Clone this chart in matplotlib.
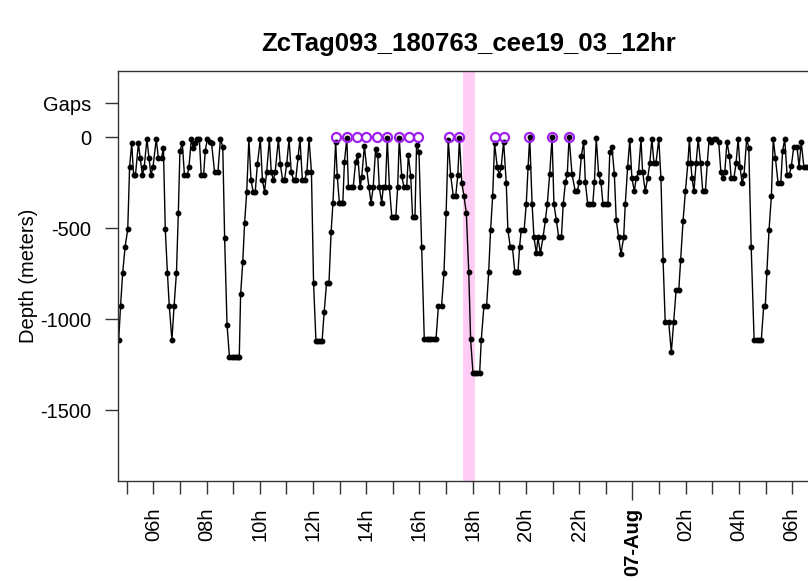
import matplotlib
matplotlib.use("Agg")
import matplotlib.pyplot as plt

plt.rcParams['font.family'] = ['Liberation Sans', 'DejaVu Sans']

title = "ZcTag093_180763_cee19_03_12hr"

# time in hours after 06-Aug 00:00, depth in metres
hours = [
    4.70, 4.77, 4.85, 4.94, 5.04, 5.11, 5.19, 5.26, 5.33, 5.44, 5.51, 5.59, 5.66, 5.76, 5.84,
    5.91, 5.99, 6.11, 6.19, 6.31, 6.38, 6.45, 6.53, 6.60, 6.70, 6.78, 6.87, 6.94, 7.00, 7.09,
    7.17, 7.28, 7.34, 7.43, 7.50, 7.58, 7.65, 7.73, 7.80, 7.89, 7.95, 8.03, 8.12, 8.19, 8.30,
    8.43, 8.52, 8.61, 8.68, 8.77, 8.86, 8.94, 9.02, 9.10, 9.17, 9.23, 9.28, 9.36, 9.43, 9.51,
    9.59, 9.67, 9.75, 9.83, 9.91, 10.02, 10.10, 10.18, 10.26, 10.36, 10.43, 10.51, 10.58, 10.70,
    10.77, 10.86, 10.93, 11.01, 11.10, 11.18, 11.27, 11.35, 11.44, 11.51, 11.60, 11.69, 11.77,
    11.85, 11.94, 12.02, 12.11, 12.19, 12.26, 12.34, 12.42, 12.51, 12.60, 12.68, 12.75, 12.85,
    12.91, 12.99, 13.06, 13.12, 13.18, 13.27, 13.33, 13.42, 13.51, 13.60, 13.68, 13.77, 13.83,
    13.93, 14.02, 14.10, 14.18, 14.26, 14.35, 14.43, 14.49, 14.58, 14.64, 14.72, 14.79, 14.87,
    14.96, 15.03, 15.11, 15.18, 15.24, 15.33, 15.42, 15.52, 15.58, 15.67, 15.74, 15.83, 15.89,
    15.98, 16.08, 16.18, 16.27, 16.36, 16.45, 16.53, 16.62, 16.71, 16.83, 16.92, 17.00, 17.08,
    17.17, 17.27, 17.36, 17.44, 17.50, 17.59, 17.67, 17.76, 17.85, 17.92, 18.01, 18.09, 18.17,
    18.26, 18.32, 18.42, 18.52, 18.60, 18.67, 18.75, 18.82, 18.92, 19.00, 19.07, 19.16, 19.26,
    19.32, 19.41, 19.49, 19.58, 19.64, 19.70, 19.76, 19.82, 19.93, 20.01, 20.08, 20.14, 20.23,
    20.30, 20.39, 20.45, 20.54, 20.64, 20.73, 20.80, 20.89, 20.98, 21.05, 21.14, 21.23, 21.33,
    21.40, 21.48, 21.55, 21.62, 21.73, 21.85, 21.93, 22.00, 22.08, 22.17, 22.23, 22.32, 22.41,
    22.51, 22.57, 22.64, 22.73, 22.82, 22.89, 22.99, 23.08, 23.15, 23.23, 23.32, 23.39, 23.48,
    23.57, 23.67, 23.73, 23.82, 23.90, 23.98, 24.07, 24.14, 24.23, 24.32, 24.38, 24.48, 24.57,
    24.65, 24.73, 24.81, 24.88, 24.99, 25.07, 25.15, 25.23, 25.36, 25.46, 25.55, 25.64, 25.74,
    25.81, 25.90, 25.99, 26.08, 26.14, 26.19, 26.24, 26.31, 26.39, 26.47, 26.56, 26.64, 26.74,
    26.81, 26.88, 26.96, 27.05, 27.15, 27.24, 27.32, 27.39, 27.47, 27.55, 27.64, 27.71, 27.81,
    27.89, 27.97, 28.04, 28.12, 28.19, 28.29, 28.37, 28.46, 28.57, 28.66, 28.75, 28.84, 28.93,
    28.99, 29.05, 29.13, 29.22, 29.29, 29.37, 29.47, 29.57, 29.64, 29.72, 29.81, 29.89, 29.97,
    30.06, 30.18, 30.26, 30.34, 30.44, 30.52, 30.61,
]
depth = [
    -1115, -929, -745, -603, -507, -163, -35, -209, -209, -35, -114, -209, -163, -11, -114,
    -209, -163, -11, -114, -114, -59, -507, -745, -929, -1115, -929, -745, -419, -77, -35,
    -209, -209, -163, -11, -59, -35, -11, -11, -209, -209, -77, -11, -26, -35, -190,
    -190, -11, -53, -557, -1033, -1207, -1207, -1207, -1207, -1207, -1207, -864, -689, -474, -300,
    -11, -236, -300, -300, -150, -11, -236, -300, -190, -11, -190, -236, -190, -11,
    -150, -236, -236, -150, -11, -190, -236, -236, -108, -11, -236, -236, -190,
    -11, -190, -800, -1121, -1121, -1121, -1121, -960, -800, -800, -520, -361, -26,
    -214, -361, -361, -361, -136, -7, -276, -276, -276, -136, -99, -276, -218,
    -49, -178, -276, -361, -276, -68, -99, -276, -361, -276, -276, -7, -276,
    -438, -438, -438, -276, -7, -214, -276, -276, -99, -214, -438, -438, -44,
    -81, -603, -1112, -1112, -1112, -1112, -1112, -1112, -929, -929, -745, -416, -16,
    -209, -324, -324, -209, -7, -254, -324, -419, -740, -1112, -1298, -1298, -1298,
    -1298, -1115, -929, -929, -740, -511, -322, -35, -163, -209, -163, -26, -255,
    -511, -603, -603, -740, -740, -740, -603, -511, -511, -368, -163, 0, -368,
    -551, -639, -551, -639, -551, -456, -368, -205, 0, -368, -456, -551, -551,
    -368, -249, -205, 0, -205, -297, -297, -249, -103, -26, -249, -368, -368,
    -368, -249, -7, -205, -249, -368, -368, -368, -81, -55, -205, -456, -551,
    -643, -551, -368, -163, -16, -227, -297, -227, -190, -11, -190, -297, -227,
    -145, -11, -145, -145, -11, -227, -676, -1015, -1015, -1183, -1015, -841, -841,
    -676, -462, -297, -145, -11, -145, -227, -297, -145, -11, -145, -297, -297,
    -145, -11, -26, -11, -11, -26, -190, -227, -190, -26, -103, -227, -227,
    -145, -11, -163, -255, -209, -11, -59, -603, -1115, -1115, -1115, -1115, -929,
    -929, -740, -511, -322, -11, -114, -255, -255, -77, -11, -209, -209, -157,
    -53, -53, -163, -29, -163, -163, -163,
]

# times of data gaps, marked on the "Gaps" level
gap_hours = [12.86, 13.26, 13.65, 13.99, 14.40, 14.78, 15.23, 15.61, 15.94,
             17.11, 17.48, 18.84, 19.17, 20.13, 20.98, 21.62]
gap_depth = 0

# highlighted period
shade_start = 17.63
shade_end = 18.10

ytick_vals = [185, 0, -500, -1000, -1500]
ytick_text = ['Gaps', '0', '-500', '-1000', '-1500']

fig = plt.figure(figsize=(8.08, 5.81), dpi=100)
ax = fig.add_axes([118 / 808, 100 / 581, 700.8 / 808, 410 / 581])

ax.axvspan(shade_start, shade_end, color='#FFCCF5', lw=0, zorder=0)
ax.plot(hours, depth, color='black', lw=1.0, marker='o', ms=3.2, zorder=2)
ax.plot(gap_hours, [gap_depth] * len(gap_hours), ls='none', marker='o', ms=6.5,
        mfc='none', mec='#A020F0', mew=1.6, zorder=3)

ax.set_xlim(4.674, 31.0)
ax.set_ylim(-1890, 363)

# hourly ticks, labels every 2 h, day label at midnight
hrs = list(range(5, 31))
labels = []
for h in hrs:
    if h % 2:
        labels.append('')
    elif h == 24:
        labels.append('07-Aug')
    else:
        labels.append('%02dh' % (h % 24))
ax.set_xticks(hrs)
ax.set_xticklabels(labels, rotation=90, fontsize=14.5)
ax.tick_params(axis='x', length=9.4, width=1.0, color='#333333', pad=10)
for t, h in zip(ax.xaxis.get_major_ticks(), hrs):
    if h == 24:
        t.tick1line.set_markersize(14)
        t.label1.set_fontweight('bold')

ax.set_yticks(ytick_vals)
ax.set_yticklabels(ytick_text, fontsize=14.5)
ax.tick_params(axis='y', length=9.4, width=1.0, color='#333333', pad=10)

for s in ax.spines.values():
    s.set_color('#333333')
    s.set_linewidth(1.0)

fig.text(28 / 808, 1 - 276 / 581, 'Depth (meters)', rotation=90, fontsize=14.5,
         ha='center', va='center')
fig.text(469 / 808, 1 - 44 / 581, title, fontsize=18.5, fontweight='bold',
         ha='center', va='center')

fig.savefig('out.png', dpi=100)
